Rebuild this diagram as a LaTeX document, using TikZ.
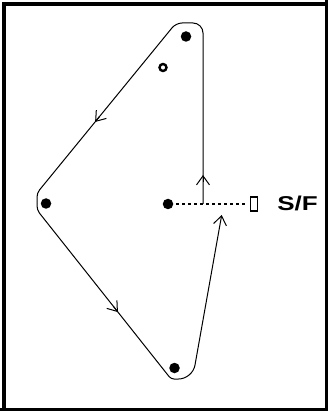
\documentclass[tikz,border=0pt]{standalone}
\usepackage{fontspec}
\setmainfont{Liberation Sans}
\usetikzlibrary{arrows.meta,calc}
\begin{document}
\begin{tikzpicture}[x=1pt,y=-1pt,
  dot/.style={circle,fill=black,inner sep=0pt,minimum size=10.5pt},
  ring/.style={circle,draw=black,line width=2.4pt,fill=white,inner sep=0pt,minimum size=7pt},
  track/.style={line width=1pt},
  barb/.style={-{Straight Barb[length=9pt,width=13pt,line width=1pt]}},
  dotline/.style={line width=2.2pt,dash pattern=on 2.2pt off 3.8pt},
  flag/.style={draw,line width=1.3pt,minimum width=6.5pt,minimum height=14pt,inner sep=0pt},
  lbl/.style={anchor=base west,font=\bfseries\fontsize{20}{21}\selectfont,xscale=1.3,inner sep=0pt}
]
\useasboundingbox (0,0) rectangle (328,411);
\fill[white] (0,0) rectangle (328,411);
% frame
\draw[line width=4pt] (4,411) -- (4,4) -- (328,4);
\draw[line width=3pt] (326.5,0) -- (326.5,409.5) -- (0,409.5);
% points
\node[dot] (top) at (186,36.5) {};
\node[ring] (open) at (163,67.5) {};
\node[dot] (left) at (46,203.5) {};
\node[dot] (ctr) at (168,204) {};
\node[dot] (bot) at (174.5,368) {};
\node[flag] (sf) at (254,204) {};
\node[lbl] (sflabel) at (277,211) {S/F};
% start/finish line
\draw[dotline,shorten <=3pt,shorten >=4pt] (ctr.east) -- (sf.west);
% track corners
\coordinate (start) at (203,204);
\coordinate (tr) at (203,23);
\coordinate (tl) at (176,23);
\coordinate (lu) at (37,193);
\coordinate (ll) at (37,210);
\coordinate (bl) at (171,379);
\coordinate (br) at (192.5,379);
\coordinate (finish) at (221.7,215);
\draw[track,barb] (start) [rounded corners=10pt] -- (tr) [rounded corners=6pt] -- (tl) [rounded corners=4pt] -- (lu) -- (ll) [rounded corners=3pt] -- (bl) [rounded corners=14pt] -- (br) -- (finish);
% direction arrows
\draw[track,barb] ($(start)!0.12!(tr)$) -- ($(start)!0.16!(tr)$);
\draw[track,barb] ($(tl)!0.55!(lu)$) -- ($(tl)!0.582!(lu)$);
\draw[track,barb] ($(ll)!0.57!(bl)$) -- ($(ll)!0.604!(bl)$);
\end{tikzpicture}
\end{document}
